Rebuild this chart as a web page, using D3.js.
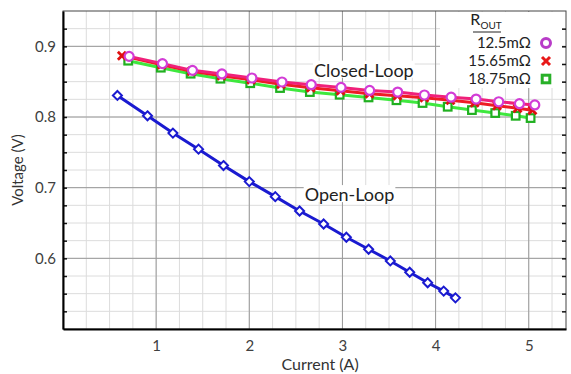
<!DOCTYPE html>
<html>
<head>
<meta charset="utf-8">
<script src="https://cdn.jsdelivr.net/npm/d3@7"></script>
<style>
body{margin:0;background:#fff;}
text{font-family:Lato,"Open Sans",sans-serif;}
</style>
</head>
<body>
<div id="chart1"></div>
<script>
// open-loop
const openX = [0.584,0.907,1.180,1.455,1.723,2.000,2.279,2.540,2.798,3.042,3.281,3.514,3.722,3.915,4.087,4.213];
const openY = [0.8305,0.8017,0.7772,0.7545,0.7313,0.7086,0.6873,0.6670,0.6486,0.6298,0.6129,0.5963,0.5803,0.5655,0.5536,0.5441];
// closed-loop, 3 output resistances
const r125X = [0.710,1.068,1.390,1.706,2.028,2.351,2.665,2.985,3.292,3.593,3.880,4.167,4.435,4.678,4.900,5.065];
const r125Y = [0.8858,0.8755,0.8660,0.8609,0.8552,0.8495,0.8457,0.8419,0.8376,0.8353,0.8311,0.8280,0.8254,0.8216,0.8188,0.8171];
const r1565X = [0.632,1.060,1.380,1.700,2.020,2.340,2.660,2.980,3.290,3.590,3.880,4.160,4.420,4.660,4.880,5.040];
const r1565Y = [0.8868,0.8740,0.8648,0.8585,0.8528,0.8464,0.8414,0.8372,0.8330,0.8300,0.8273,0.8237,0.8202,0.8159,0.8124,0.8095];
const r1875X = [0.700,1.050,1.370,1.690,2.010,2.330,2.650,2.970,3.280,3.580,3.860,4.130,4.390,4.640,4.860,5.020];
const r1875Y = [0.8797,0.8698,0.8613,0.8542,0.8478,0.8410,0.8353,0.8315,0.8277,0.8237,0.8198,0.8145,0.8098,0.8056,0.8017,0.7985];
const xTicks = [1,2,3,4,5];
const yTicks = [0.6,0.7,0.8,0.9];
const legendLabels = ["12.5m\u03A9","15.65m\u03A9","18.75m\u03A9"];

const width = 571, height = 374;
const margin = {top:11, right:5, bottom:45, left:63};

const xscale = d3.scaleLinear().domain([0,5.4]).range([margin.left,width-margin.right]);
const yscale = d3.scaleLinear().domain([0.5,0.95]).range([height-margin.bottom,margin.top]);

let svg = d3.select('#chart1')
  .append('svg')
  .attr('width',width)
  .attr('height',height)

const minorX = d3.range(0.25,5.4,0.25);
const minorY = d3.range(0.525,0.95,0.025);

// minor grid
svg.append('g').selectAll('line').data(minorX).enter().append('line')
  .attr('x1',d=>xscale(d)).attr('x2',d=>xscale(d))
  .attr('y1',yscale(0.5)).attr('y2',yscale(0.95))
  .attr('stroke','#dcdcdc').attr('stroke-width',1)
svg.append('g').selectAll('line').data(minorY).enter().append('line')
  .attr('y1',d=>yscale(d)).attr('y2',d=>yscale(d))
  .attr('x1',xscale(0)).attr('x2',xscale(5.4))
  .attr('stroke','#dcdcdc').attr('stroke-width',1)
// major grid
svg.append('g').selectAll('line').data(xTicks).enter().append('line')
  .attr('x1',d=>xscale(d)).attr('x2',d=>xscale(d))
  .attr('y1',yscale(0.5)).attr('y2',yscale(0.95))
  .attr('stroke','#9a9a9a').attr('stroke-width',1)
svg.append('g').selectAll('line').data(yTicks).enter().append('line')
  .attr('y1',d=>yscale(d)).attr('y2',d=>yscale(d))
  .attr('x1',xscale(0)).attr('x2',xscale(5.4))
  .attr('stroke','#9a9a9a').attr('stroke-width',1)

// frame
svg.append('rect')
  .attr('x',xscale(0)).attr('y',yscale(0.95))
  .attr('width',xscale(5.4)-xscale(0)).attr('height',yscale(0.5)-yscale(0.95))
  .attr('fill','none').attr('stroke','#444').attr('stroke-width',1)

// inward ticks on left and right
svg.append('g').attr('transform',`translate(${xscale(0)},0)`)
  .call(d3.axisRight(yscale).tickValues(minorY).tickSize(4).tickFormat(''))
  .call(g=>g.select('.domain').remove())
  .call(g=>g.selectAll('line').attr('stroke','#111').attr('stroke-width',1.5))
svg.append('g').attr('transform',`translate(${xscale(5.4)},0)`)
  .call(d3.axisLeft(yscale).tickValues(minorY).tickSize(4).tickFormat(''))
  .call(g=>g.select('.domain').remove())
  .call(g=>g.selectAll('line').attr('stroke','#111').attr('stroke-width',1.5))

// axes
let bottom_axis = d3.axisBottom(xscale).tickValues(xTicks).tickSize(0).tickPadding(11).tickFormat(d3.format('d'));
let left_axis = d3.axisLeft(yscale).tickValues(yTicks).tickSize(0).tickPadding(7).tickFormat(d3.format('.1f'));
svg.append('g')
  .attr('transform',`translate(0,${yscale(0.5)})`)
  .call(bottom_axis)
  .call(g=>g.select('.domain').attr('stroke','#000').attr('stroke-width',2))
  .call(g=>g.selectAll('text').attr('font-size',15).attr('fill','#404040').style('font-family','Lato,sans-serif'))
svg.append('g')
  .attr('transform',`translate(${xscale(0)},0)`)
  .call(left_axis)
  .call(g=>g.select('.domain').attr('stroke','#000').attr('stroke-width',2))
  .call(g=>g.selectAll('text').attr('font-size',15).attr('fill','#404040').style('font-family','Lato,sans-serif'))

svg.append('text').attr('x',xscale(2.76)).attr('y',370)
  .attr('text-anchor','middle').attr('font-size',16).attr('fill','#333').text('Current (A)')
svg.append('text').attr('transform',`translate(23,${yscale(0.725)}) rotate(-90)`)
  .attr('text-anchor','middle').attr('font-size',15).attr('fill','#333').text('Voltage (V)')

const line = d3.line().x(d=>xscale(d[0])).y(d=>yscale(d[1]));
const zip = (xs,ys)=>xs.map((x,i)=>[x,ys[i]]);

const series = [
  {data:zip(r1875X,r1875Y), line:'#3ee83e', mark:'#20b020', shape:'square'},
  {data:zip(r1565X,r1565Y), line:'#ee1c24', mark:'#e01010', shape:'x'},
  {data:zip(r125X,r125Y), line:'#f0207a', mark:'#d23cd6', shape:'circle'},
  {data:zip(openX,openY), line:'#1a1ad0', mark:'#1a1ad0', shape:'diamond'}
];

function drawMarker(g, shape, color){
  if(shape==='circle'){
    g.append('circle').attr('r',4.5).attr('fill','#fff').attr('stroke',color).attr('stroke-width',2.2);
  } else if(shape==='square'){
    g.append('rect').attr('x',-3.8).attr('y',-3.8).attr('width',7.6).attr('height',7.6)
      .attr('fill','#fff').attr('stroke',color).attr('stroke-width',2.2);
  } else if(shape==='diamond'){
    g.append('path').attr('d','M0,-4.5L4.5,0L0,4.5L-4.5,0Z').attr('fill','#fff').attr('stroke',color).attr('stroke-width',2);
  } else {
    g.append('path').attr('d','M-4,-4L4,4M-4,4L4,-4').attr('stroke',color).attr('stroke-width',2.8);
  }
}

series.forEach(s=>{
  svg.append('path').datum(s.data).attr('d',line)
    .attr('fill','none').attr('stroke',s.line).attr('stroke-width',3);
  svg.append('g').selectAll('g').data(s.data).enter().append('g')
    .attr('transform',d=>`translate(${xscale(d[0])},${yscale(d[1])})`)
    .each(function(){ drawMarker(d3.select(this), s.shape, s.mark); });
});

// in-plot labels
function label(txt, x, y){
  const t = svg.append('text').attr('x',x).attr('y',y).attr('text-anchor','middle')
    .attr('font-size',18).attr('fill','#222').text(txt);
  const b = t.node().getBBox();
  svg.insert('rect', function(){ return t.node(); })
    .attr('x',b.x-1).attr('y',b.y+2).attr('width',b.width+2).attr('height',b.height-5).attr('fill','#fff');
}
label('Closed-Loop', xscale(3.23), yscale(0.857));
label('Open-Loop', xscale(3.076), yscale(0.681));

// legend
const lg = svg.append('g');
lg.append('rect').attr('x',440).attr('y',12).attr('width',122).attr('height',76).attr('fill','#fff');
const rt = lg.append('text').attr('x',486).attr('y',25).attr('text-anchor','middle').attr('font-size',16).attr('fill','#222');
rt.append('tspan').text('R');
rt.append('tspan').attr('font-size',10).attr('dy',4).text('OUT');
lg.append('line').attr('x1',473).attr('x2',501).attr('y1',32).attr('y2',32).attr('stroke','#222').attr('stroke-width',1);
const legShapes = ['circle','x','square'];
const legColors = ['#b83cc8','#e81818','#28b028'];
legendLabels.forEach((l,i)=>{
  lg.append('text').attr('x',531).attr('y',48+i*18).attr('text-anchor','end')
    .attr('font-size',15).attr('fill','#222').text(l);
  const m = lg.append('g').attr('transform',`translate(546,${43+i*18})`);
  drawMarker(m, legShapes[i], legColors[i]);
  m.selectAll('*').attr('stroke-width',3);
});
</script>
</body>
</html>
